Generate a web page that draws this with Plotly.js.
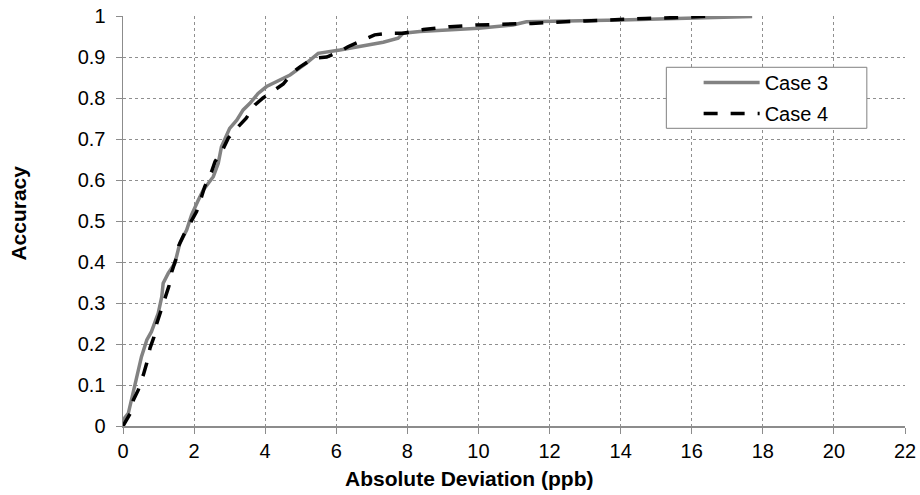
<!DOCTYPE html>
<html>
<head>
<meta charset="utf-8">
<script src="https://cdn.plot.ly/plotly-3.0.1.min.js"></script>
<style>html,body{margin:0;padding:0;background:#fff;}#chart{width:920px;height:495px;}</style>
</head>
<body>
<div id="chart"></div>
<script>
var case3X = [0, 0.05, 0.15, 0.24, 0.43, 0.52, 0.67, 0.8, 0.99, 1.09, 1.13, 1.27, 1.46, 1.6, 1.79, 1.93, 2.12, 2.26, 2.54, 2.68, 2.77, 3.0, 3.2, 3.38, 3.57, 3.8, 4.04, 4.32, 4.7, 5.16, 5.49, 6.1, 6.66, 7.32, 7.74, 7.83, 7.88, 8.35, 10.0, 10.97, 11.35, 14.0, 16.0, 17.7];
var case3Y = [0, 0.02, 0.031, 0.063, 0.128, 0.169, 0.21, 0.23, 0.275, 0.315, 0.348, 0.372, 0.397, 0.446, 0.478, 0.515, 0.551, 0.576, 0.608, 0.641, 0.681, 0.726, 0.746, 0.771, 0.787, 0.811, 0.828, 0.84, 0.856, 0.885, 0.909, 0.917, 0.925, 0.936, 0.946, 0.954, 0.958, 0.962, 0.970, 0.978, 0.986, 0.99, 0.995, 0.999];
var case4X = [0, 0.2, 0.29, 0.43, 0.57, 0.67, 0.76, 0.87, 0.95, 1.07, 1.2, 1.29, 1.37, 1.48, 1.57, 1.72, 1.91, 2.07, 2.21, 2.3, 2.49, 2.59, 2.8, 2.96, 3.24, 3.46, 3.71, 3.94, 4.24, 4.51, 4.77, 4.98, 5.35, 5.73, 6.1, 6.33, 6.71, 7.08, 7.5, 7.88, 8.45, 9.2, 9.94, 10.8, 11.5, 13.0, 13.9, 14.7, 15.5, 16.3, 16.6];
var case4Y = [0, 0.03, 0.063, 0.088, 0.124, 0.154, 0.19, 0.217, 0.25, 0.283, 0.315, 0.341, 0.376, 0.405, 0.44, 0.468, 0.498, 0.523, 0.559, 0.584, 0.62, 0.645, 0.673, 0.702, 0.73, 0.75, 0.783, 0.8, 0.818, 0.834, 0.862, 0.876, 0.897, 0.9, 0.913, 0.925, 0.94, 0.954, 0.958, 0.958, 0.967, 0.974, 0.978, 0.98, 0.982, 0.988, 0.992, 0.994, 0.996, 1.0, 1.0];
var seriesNames = ["Case 3", "Case 4"];
var xTicks = [0, 2, 4, 6, 8, 10, 12, 14, 16, 18, 20, 22];
var yTicks = [0, 0.1, 0.2, 0.3, 0.4, 0.5, 0.6, 0.7, 0.8, 0.9, 1];
var yTickText = ["0", "0.1", "0.2", "0.3", "0.4", "0.5", "0.6", "0.7", "0.8", "0.9", "1"];
var xTitle = "Absolute Deviation (ppb)";
var yTitle = "Accuracy";

var font = "Liberation Sans, Arial, sans-serif";
var traces = [
  {x: case3X, y: case3Y, name: seriesNames[0], legendgroup: "a", mode: "lines", type: "scatter",
   line: {color: "#828282", width: 3.5}},
  {x: case4X, y: case4Y, name: seriesNames[1], legendgroup: "b", mode: "lines", type: "scatter",
   line: {color: "#000000", width: 3.5, dash: "14px,13px"}}
];
var layout = {
  width: 920, height: 495,
  margin: {l: 123, r: 14.5, t: 16, b: 69},
  paper_bgcolor: "#fff", plot_bgcolor: "#fff",
  font: {family: font, size: 20, color: "#000"},
  showlegend: true,
  legend: {x: 0.7361, y: 0.8854, xanchor: "left", yanchor: "top",
    borderwidth: 0, bgcolor: "rgba(0,0,0,0)",
    font: {family: font, size: 20, color: "#000"}, itemwidth: 56, tracegroupgap: 2},
  shapes: [{type: "rect", xref: "paper", yref: "paper", x0: 0.6948, x1: 0.9512, y0: 0.7261, y1: 0.8749,
    line: {color: "#808080", width: 1}, fillcolor: "#ffffff", layer: "above"}],
  annotations: [
    {text: "<b>" + xTitle + "</b>", xref: "paper", yref: "paper", x: 0.443, y: 0, yshift: -52,
     xanchor: "center", yanchor: "middle", showarrow: false, font: {family: font, size: 21, color: "#000"}},
    {text: "<b>" + yTitle + "</b>", xref: "paper", yref: "paper", x: 0, xshift: -104, y: 0.518, textangle: -90,
     xanchor: "center", yanchor: "middle", showarrow: false, font: {family: font, size: 21, color: "#000"}}
  ],
  xaxis: {range: [0, 22], tickvals: xTicks, ticktext: xTicks.map(String),
    tickfont: {family: font, size: 20, color: "#000"}, ticklabelstandoff: 0,
    showgrid: true, gridcolor: "#8f8f8f", griddash: "dot", gridwidth: 1,
    showline: true, linecolor: "#8c8c8c", linewidth: 1.5, ticks: "outside", ticklen: 6, tickcolor: "#8c8c8c",
    zeroline: false, fixedrange: true, automargin: false},
  yaxis: {range: [0, 1], tickvals: yTicks, ticktext: yTickText,
    tickfont: {family: font, size: 20, color: "#000"}, ticklabelstandoff: 6,
    showgrid: true, gridcolor: "#8f8f8f", griddash: "dot", gridwidth: 1,
    showline: true, linecolor: "#8c8c8c", linewidth: 1.5, ticks: "outside", ticklen: 6, tickcolor: "#8c8c8c",
    zeroline: false, fixedrange: true, automargin: false}
};
Plotly.newPlot("chart", traces, layout, {staticPlot: true, displayModeBar: false});
</script>
</body>
</html>
